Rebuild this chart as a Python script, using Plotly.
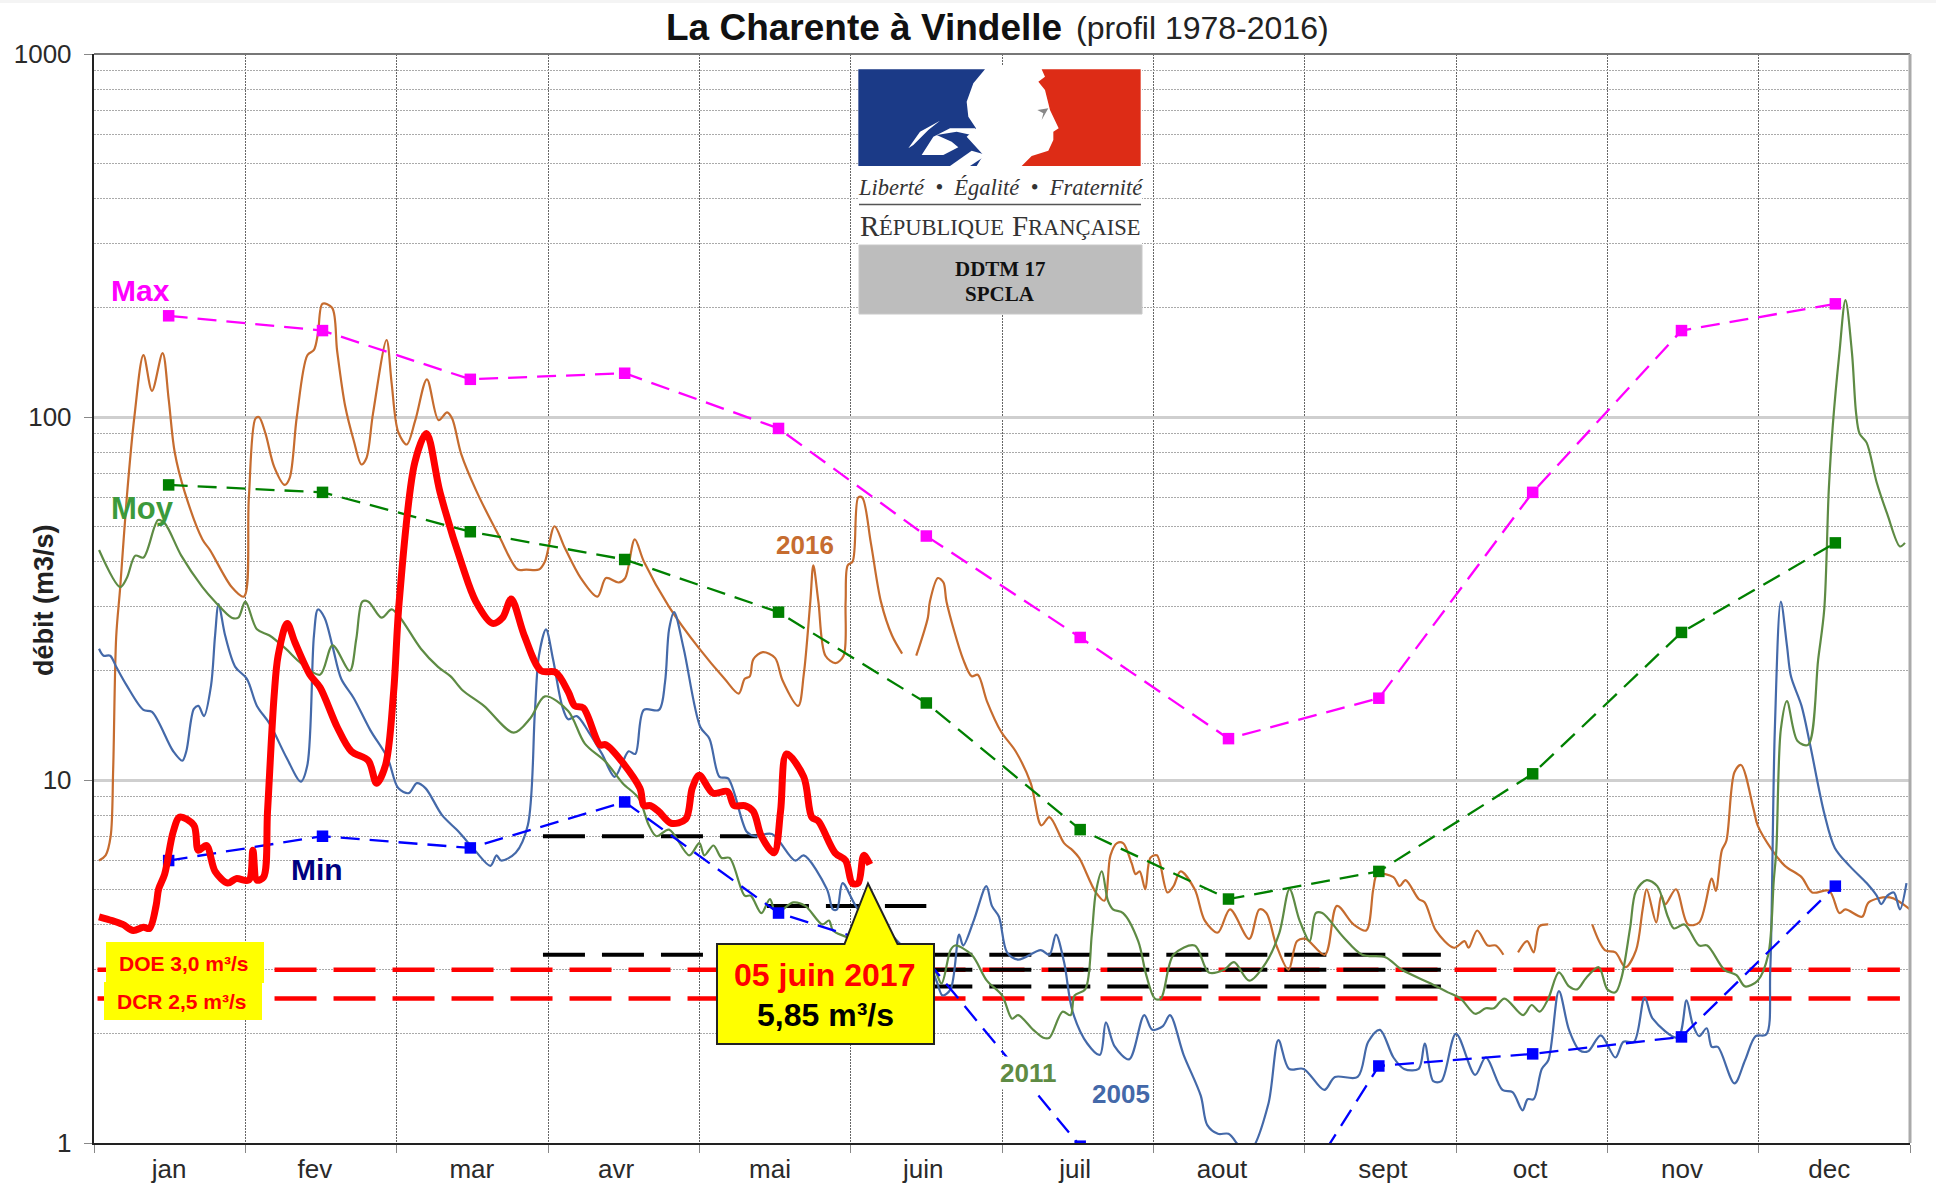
import plotly.graph_objects as go

W, H = 1936, 1191
L, R, T, B = 94, 1910, 54, 1143

month_bounds = [0, 30, 60, 90, 120, 150, 180, 210, 240, 270, 300, 330, 360]
month_labels = ["jan", "fev", "mar", "avr", "mai", "juin", "juil", "aout", "sept", "oct", "nov", "dec"]
month_label_days = [14.9, 43.8, 74.9, 103.5, 134, 164.4, 194.5, 223.6, 255.5, 284.7, 314.8, 344]
y_major = [1, 10, 100, 1000]
y_minor = [2, 3, 4, 5, 6, 7, 8, 9, 20, 30, 40, 50, 60, 70, 80, 90, 200, 300, 400, 500, 600, 700, 800, 900]

profile_days = [14.8, 45.3, 74.6, 105.2, 135.7, 165, 195.5, 224.9, 254.7, 285.2, 314.7, 345.2]
profile_max = [190, 173, 127, 132, 93, 47, 24.7, 13, 16.8, 62, 173, 205]
profile_moy = [65, 62, 48.3, 40.5, 29, 16.3, 7.3, 4.7, 5.6, 10.4, 25.5, 45]
profile_min = [6, 7, 6.5, 8.7, 4.3, 3.2, 0.98, 0.36, 1.63, 1.76, 1.96, 5.1]

d2016 = [1, 2.3, 3.3, 3.8, 4.4, 5.2, 6.5, 8, 9.8, 11.5, 13.6, 14.8, 16, 18, 21.5, 23, 27.3, 29.7, 30.7, 32, 32.7, 34, 35.7, 37.8, 38.8, 40.2, 42.3, 43.6, 44.4, 45.3, 47.2, 48.2, 49.8, 51.5, 53, 54, 55.3, 58, 59, 60.3, 62, 63.7, 66, 68.3, 70, 71, 72.8, 75.7, 80.3, 84, 85.7, 88.2, 89.4, 91.3, 93.2, 96.5, 99.8, 101.5, 104, 105.3, 107.2, 109, 114, 120, 125, 127.8, 129, 130, 130.7, 132.6, 135, 136.5, 139.6, 140.7, 142, 142.6, 143.6, 145, 147, 148.6, 149, 149.4, 150.4, 151.5, 152.3, 154, 156, 158.2, 160.2, 161, 163, 165.3, 165.7, 167.3, 168.4, 169, 172.3, 174, 175.2, 177, 179.8, 182.7, 185.7, 187.8, 189.4, 192.3, 194, 195.3, 198.6, 200.3, 201.5, 202.8, 204, 205.7, 206.5, 207.3, 208.4, 209.4, 210.7, 212.8, 214, 215.4, 218.2, 220.2, 222.8, 225.2, 229, 231, 232.4, 234.4, 236.8, 238.5, 240.2, 244, 246.4, 249.7, 252.2, 253.6, 254.4, 257.6, 258.8, 260, 262.6, 263.8, 266, 269.6, 271.7, 272.5, 274.2, 276.3, 277.9, 279.4, 281, 282.3, 284.1, 285.4, 286.5, 288.3, 292, 297, 299.5, 301.6, 303.6, 305.7, 307, 307.8, 309.7, 310.7, 311.5, 313.6, 316, 318.2, 320.7, 321.5, 322.7, 323.6, 325.2, 326.5, 329, 329.8, 332.7, 335.2, 338.5, 340.6, 344, 346, 347.2, 350.5, 351.8, 356, 360]
v2016 = [6, 6.2, 7, 10.7, 24.8, 34, 60, 100, 148, 118, 150, 112, 80, 62, 46, 43, 34, 32, 60, 99, 100, 90, 73, 65, 68, 100, 148, 153, 170, 205, 200, 152, 107, 86, 74, 77, 102, 163, 124, 91, 84, 98, 127, 98, 103, 99, 79, 63, 47, 38, 38, 38, 40, 50, 44, 36, 32, 36, 35, 36, 46, 40, 30, 23, 19, 17.3, 19, 19.3, 21.5, 22.5, 21.7, 18.8, 16, 19.5, 31, 39, 31, 22, 21, 22, 31, 39, 40, 60, 60, 45, 31, 25, 22.3, None, 22, 28, 31, 36, 35, 31, 21.5, 19.3, 19.5, 16.5, 13.6, 12, 9.8, 7.5, 7.9, 6.7, 6.4, 6.1, 4.9, 4.65, 6.2, 6.7, 6.7, 5.9, 5.5, 5.6, 5, 6.1, 6.2, 4.9, 5.1, 5.6, 5, 4.1, 3.8, 4.4, 3.65, 4.4, 4.3, 3.5, 3, 3.6, 3.65, 3.3, 4.5, 4, 3.85, 5, 5.5, 5.4, 5.1, 5.3, 4.7, 4.6, 3.85, 3.45, 3.6, 3.45, 3.85, 3.5, 3.5, 3.3, None, 3.35, 3.6, 3.35, 3.95, 4, None, 4, 3.4, 3.35, 3.05, 3.4, 4.4, 5, 4.05, 4.8, 4.55, 5, 4, 4.05, 5.35, 4.95, 6.4, 6.8, 10.5, 11, 8.3, 7.5, 6.4, 5.8, 5.4, 4.9, 4.95, 4.3, 4.4, 4.2, 4.6, 4.75, 4.4]

d2011 = [1, 5.2, 6.5, 8.2, 9.8, 12.7, 14, 17.3, 21.5, 24, 27.3, 28.6, 30, 32.3, 34.8, 38, 41, 44.8, 47.3, 50.7, 52, 53.2, 54.4, 57, 59, 60.7, 64.8, 68.2, 70.7, 73, 77.3, 83.2, 86.5, 89.4, 94, 97.3, 101.5, 104.8, 108, 110, 111.5, 114, 118, 120, 121, 122.8, 124.4, 126, 129, 130.2, 132.3, 134, 135.2, 138.6, 141, 144.4, 145.7, 146.5, 149, 160, 166.5, 168, 169.8, 170.7, 174, 177, 180, 182, 183.2, 186.2, 188.2, 189.4, 192, 193.6, 194.4, 196.5, 197.8, 198.6, 199.8, 201, 202, 204, 207, 208.6, 210.3, 211.5, 214, 218.2, 221, 224, 226, 229, 232.4, 235, 237, 239, 241, 242.2, 243.5, 247.6, 251.4, 256, 259.3, 265, 268.4, 270.9, 273.8, 275.9, 277.5, 279.6, 283.3, 285, 286.6, 288.3, 290.4, 292.4, 294, 295.8, 298.3, 300, 301.6, 302.8, 304.5, 305.7, 307.8, 309.9, 312, 313.2, 315.3, 318.2, 319.8, 323.2, 325.6, 327.3, 329.8, 331.9, 333, 333.5, 334.4, 335.6, 337.7, 339.8, 341.8, 343, 343.9, 344.7, 346, 347.2, 348.5, 349.3, 350, 351.4, 353.4, 355.5, 358, 359]
v2011 = [43, 34, 36, 41.5, 41, 52, 51, 41.5, 34, 31, 28, 28, 31, 26, 25, 23, 21, 19.5, 23.5, 20, 24.5, 31, 31, 28, 29.5, 28, 23, 20.5, 19.3, 17.7, 16, 13.5, 14.8, 17, 15.5, 12.6, 11.2, 9.8, 8.9, 7.5, 7, 7.3, 6.2, 6.7, 6.2, 6.6, 6.1, 6.1, 4.8, 4.8, 4.3, 4.7, 4.3, 4.6, 4.5, 4, 4.1, 3.85, 3.7, 3.2, 3, 2.75, 3.4, 3.5, 3.3, 2.8, 2.55, 2.2, 2.25, 2.05, 1.95, 1.95, 2.3, 2.25, 2.55, 2.65, 3.75, 4.9, 5.6, 4.65, 4.4, 4.3, 3.6, 2.9, 2.5, 2.5, 3.3, 3.5, 2.95, 3, 3.15, 2.8, 3.15, 3.8, 5, 4.1, 3.6, 4.3, 4.3, 3.7, 3.3, 3.25, 3, 2.75, 2.6, 2.5, 2.27, 2.35, 2.35, 2.5, 2.25, 2.4, 2.3, 2.5, 2.95, 2.7, 2.65, 2.85, 3.05, 2.65, 2.6, 2.85, 3.9, 4.95, 5.3, 5.1, 4.2, 3.9, 4, 3.5, 3.5, 3, 2.9, 2.7, 2.8, 3.3, 5.3, 6.4, 13.8, 16.5, 12.8, 12.5, 21.5, 29.5, 63, 95, 150, 210, 150, 103, 90, 85, 66, 54, 44, 45]

d2005 = [1, 1.9, 3.2, 4.4, 6.5, 9.8, 11.5, 15.7, 17.5, 18.3, 19.8, 20.7, 21.8, 23.2, 24, 24.7, 26, 28, 30.3, 32.3, 34.8, 38.2, 41, 42.3, 43.6, 44.4, 45.7, 47.3, 49, 51.5, 54.8, 58.2, 60.3, 62.4, 64, 65.7, 69, 72.3, 75.7, 78.6, 79.8, 80.7, 83.6, 86, 87.4, 88.2, 89.6, 91, 92.8, 94, 95.7, 98, 100.7, 103.2, 104.8, 106, 107.3, 109, 112, 113.2, 114, 115, 116.9, 120.2, 122, 124, 125.7, 129.4, 131, 134.4, 139, 140.7, 145.3, 146.5, 147.3, 148.4, 151.5, 156.9, 160.2, 165, 167, 168.2, 169.8, 171.5, 172.3, 174.4, 176.9, 178, 179.4, 181, 183.2, 187.7, 189.4, 190.7, 192.3, 194, 196.9, 199.4, 200.6, 202.3, 205.2, 208.2, 209.8, 211.9, 213.3, 216, 219.4, 220.7, 222.8, 224.9, 226.5, 227.3, 229.4, 232.8, 234.8, 236.9, 239.8, 243.9, 246, 250.5, 252.6, 254.9, 257.6, 259.7, 262.6, 263.8, 265.5, 267.1, 270, 273.8, 275.9, 279.2, 281.2, 283.2, 284.2, 285.4, 287, 288.3, 290.4, 292.4, 294.5, 296.2, 298.7, 301.6, 303.2, 305.3, 307.4, 309, 314, 315.7, 316.9, 318.2, 319.7, 320.7, 321.9, 325.2, 327.3, 329.4, 331.5, 332.3, 333.2, 334.4, 335.6, 336.4, 338.5, 340.2, 343, 345.1, 348, 351.4, 353.4, 354.3, 355.5, 356.8, 358, 359.3]
v2005 = [23, 22, 22, 20.5, 18.2, 15.6, 15.4, 12, 11.3, 12, 15.7, 16, 15, 18.2, 25, 30.5, 25, 20.5, 19, 16, 14.3, 11.5, 9.9, 11, 25, 29.5, 28, 23.3, 19, 16.8, 13.7, 11.5, 9.5, 9.2, 9.8, 9.5, 8, 7.2, 6.35, 5.8, 6.2, 6, 6.3, 7.5, 15.4, 22, 26, 21.5, 16, 14.7, 15, 13.6, 11.8, 10.2, 11.2, 12, 11.8, 15.6, 15.6, 18.6, 26, 29, 23, 14, 13, 10.2, 10.1, 7.2, 7, 7.1, 6, 6.2, 5, 4.4, 4.4, 5.2, 4.4, 3.9, 3.5, 3.2, 2.8, 2.55, 2.65, 3.75, 3.5, 4.1, 5.1, 4.5, 4.2, 3.35, 3.2, 3.4, 3.3, 3.75, 3.15, 2.3, 1.88, 1.75, 2.15, 1.85, 1.7, 2.25, 2.05, 2.1, 2.25, 1.75, 1.35, 1.12, 1.06, 1.06, 1, 0.96, 0.96, 1.28, 1.92, 1.6, 1.6, 1.4, 1.52, 1.52, 1.9, 2.05, 1.72, 1.6, 1.6, 1.88, 1.48, 1.48, 2, 1.54, 1.72, 1.4, 1.38, 1.23, 1.32, 1.32, 1.6, 1.69, 2.62, 2.05, 1.8, 1.79, 1.98, 1.72, 1.9, 1.9, 2.52, 2.2, 1.95, 2.47, 2.13, 1.97, 2.07, 1.84, 1.84, 1.46, 1.69, 1.97, 1.99, 3, 13.7, 31, 23.5, 19.3, 16, 12.5, 8.1, 6.5, 5.8, 5.2, 4.8, 4.55, 4.8, 4.9, 4.4, 5.2]

d2017 = [1, 3.6, 5.7, 7.8, 9.8, 11, 12.3, 12.8, 14, 15.7, 17, 19.8, 20.7, 22.3, 24, 26.5, 28.2, 30.7, 31.5, 32.3, 33.6, 34.4, 35.7, 36.5, 38.3, 39.8, 42.8, 44.8, 48.2, 51, 54.4, 56, 57.8, 59.4, 60.5, 63.6, 65.9, 68.6, 73, 75.7, 79, 81, 82.7, 85.3, 88.6, 91.5, 94, 95.3, 97, 100.3, 101.5, 108.2, 109, 110.3, 111.9, 114.4, 117.3, 118.6, 120, 122.7, 125.6, 126.9, 129, 130.7, 132.3, 134.8, 136.1, 137.3, 140.7, 142.3, 143.6, 146.9, 149, 150.3, 151.5, 152.6, 153.8]
v2017 = [4.2, 4.1, 4, 3.85, 3.93, 3.9, 4.5, 5, 5.5, 7.2, 7.9, 7.5, 6.4, 6.6, 5.6, 5.2, 5.35, 5.3, 6.4, 5.3, 5.4, 8.2, 17, 22, 27, 24, 19.5, 18, 14, 12, 11.3, 9.8, 11, 17.5, 31, 75, 90, 62, 39, 31, 27, 28, 31.5, 25, 20, 19.8, 17.5, 16, 15.8, 12.5, 12.5, 9.5, 8.5, 8.5, 8.2, 7.6, 7.8, 9.5, 10.3, 9.2, 9.3, 8.5, 8.5, 8.2, 7, 6.3, 8.2, 11.8, 10.2, 7.9, 7.7, 6.3, 6, 5.2, 5.2, 6.2, 5.85]

doe_days, doe_value = [0.7, 358], 3.0
dcr_days, dcr_value = [0.7, 358], 2.5
thr_a_days, thr_a_value = [89, 131.5], 7.0
thr_b_days, thr_b_value = [89, 121], 3.3
thr_c_days, thr_c_value = [133.4, 165], 4.5
thr_d_days, thr_d_values = [142.4, 267], [3.3, 3.0, 2.7]

ORANGE, GREEN, BLUE = "#C66C2F", "#5E8B44", "#4469A9"

fig = go.Figure()


def hline(days, value, color, width):
    fig.add_trace(go.Scatter(x=days, y=[value, value], mode="lines",
                             line=dict(color=color, width=width, dash="42px,17px"), hoverinfo="skip"))


hline(doe_days, doe_value, "#FF0000", 4.5)
hline(dcr_days, dcr_value, "#FF0000", 4.5)
hline(thr_a_days, thr_a_value, "#000000", 4)
hline(thr_b_days, thr_b_value, "#000000", 4)
hline(thr_c_days, thr_c_value, "#000000", 4)
for v in thr_d_values:
    hline(thr_d_days, v, "#000000", 4)

for d, v, c in [(d2016, v2016, ORANGE), (d2005, v2005, BLUE), (d2011, v2011, GREEN)]:
    fig.add_trace(go.Scatter(x=d, y=v, mode="lines", connectgaps=False,
                             line=dict(color=c, width=2.2, shape="spline", smoothing=0.9), hoverinfo="skip"))

for v, c in [(profile_max, "#FF00FF"), (profile_moy, "#008000"), (profile_min, "#0000FF")]:
    fig.add_trace(go.Scatter(x=profile_days, y=v, mode="lines+markers",
                             line=dict(color=c, width=2.3, dash="19px,10px"),
                             marker=dict(symbol="square", size=11.5, color=c), hoverinfo="skip"))

fig.add_trace(go.Scatter(x=d2017, y=v2017, mode="lines",
                         line=dict(color="#FF0000", width=7, shape="spline", smoothing=0.9), hoverinfo="skip"))


def fx(px):
    return (px - L) / (R - L)


def fy(py):
    return (B - py) / (B - T)


def path(points):
    return "M " + " L ".join(f"{fx(x):.5f},{fy(y):.5f}" for x, y in points) + " Z"


def z8(points):
    return [(850 + x / 3, 60 + y / 3) for x, y in points]


shapes = []


def poly(points, fill, line=None, lw=0):
    shapes.append(dict(type="path", path=path(points), xref="paper", yref="paper",
                       fillcolor=fill, line=dict(color=line or fill, width=lw), layer="above"))


def rect(x0, y0, x1, y1, fill, line=None, lw=0):
    shapes.append(dict(type="rect", x0=fx(x0), x1=fx(x1), y0=fy(y0), y1=fy(y1), xref="paper", yref="paper",
                       fillcolor=fill, line=dict(color=line or fill, width=lw), layer="above"))


def seg(x0, y0, x1, y1, color, lw):
    shapes.append(dict(type="line", x0=fx(x0), x1=fx(x1), y0=fy(y0), y1=fy(y1), xref="paper", yref="paper",
                       line=dict(color=color, width=lw), layer="above"))


# frame
rect(0, 0, W, 3, "#F4F4F4")
seg(L, T, R, T, "#777777", 2)
seg(R, T, R, B, "#AAAAAA", 3)

# logo
rect(859, 66, 1142, 246, "#FFFFFF")
poly(z8([(25, 28), (405, 28), (370, 70), (350, 125), (355, 170), (378, 205), (350, 230), (400, 285), (380, 318), (25, 318)]), "#1B3A87")
poly(z8([(175, 265), (210, 215), (270, 182), (235, 210), (190, 255)]), "#FFFFFF")
poly(z8([(215, 285), (250, 230), (300, 205), (375, 205), (378, 228), (320, 215), (260, 225), (305, 245), (325, 262), (280, 285)]), "#FFFFFF")
poly(z8([(300, 318), (365, 272), (410, 285), (360, 318)]), "#FFFFFF")
poly(z8([(575, 28), (872, 28), (872, 318), (515, 318), (545, 288), (595, 272), (610, 240), (610, 215), (626, 205), (600, 150), (585, 90), (565, 65), (585, 50)]), "#DD2C16")
poly(z8([(562, 150), (595, 145), (575, 180), (580, 160)]), "#888888")
seg(859, 204.5, 1141, 204.5, "#555555", 1.5)
rect(859, 245, 1142, 314, "#BDBDBD", "#C8C8C8", 1)

# legend boxes
rect(106, 942, 264, 983, "#FFFF00")
rect(104, 982, 262, 1020, "#FFFF00")

# callout
poly([(717, 944), (844.5, 944), (868, 883.5), (897.5, 944), (934, 944), (934, 1044), (717, 1044)], "#FFFF00", "#222222", 2)

fig.update_layout(shapes=shapes)

anns = []


def ann(px, py, text, size, color="#000000", family="Liberation Sans", bg=None):
    anns.append(dict(x=fx(px), y=fy(py), xref="paper", yref="paper", text=text, showarrow=False,
                     xanchor="center", yanchor="middle", bgcolor=bg,
                     font=dict(size=size, color=color, family=family)))


ann(864, 27, "<b>La Charente à Vindelle</b>", 37, "#111111")
ann(1202, 28, "(profil 1978-2016)", 32, "#222222")
ann(140.6, 290, "<b>Max</b>", 30, "#FF00FF")
ann(142, 509, "<b>Moy</b>", 31, "#3C9A3C")
ann(317, 869.5, "<b>Min</b>", 30, "#000080")
ann(805, 544.6, "<b>2016</b>", 26, "#C66C2F")
ann(1027.5, 1073, "<b>2011</b>", 26, "#5E8B44", bg="#FFFFFF")
ann(1121, 1094, "<b>2005</b>", 26, "#4469A9", bg="#FFFFFF")
ann(183.5, 964, "<b>DOE 3,0 m³/s</b>", 21, "#FF0000")
ann(182, 1001, "<b>DCR 2,5 m³/s</b>", 21, "#FF0000")
ann(824, 975, "<b>05 juin 2017</b>", 32, "#FF0000")
ann(825, 1014.6, "<b>5,85 m³/s</b>", 32, "#000000")
ann(1000, 187.5, "<i>Liberté  •  Égalité  •  Fraternité</i>", 22.5, "#333333", "Liberation Serif")
ann(869.6, 226, "R", 29, "#333333", "Liberation Serif")
ann(941.8, 228, "ÉPUBLIQUE", 22.5, "#333333", "Liberation Serif")
ann(1020.3, 226, "F", 29, "#333333", "Liberation Serif")
ann(1084.6, 228, "RANÇAISE", 22.5, "#333333", "Liberation Serif")
ann(1000, 268.6, "<b>DDTM 17</b>", 21, "#111111", "Liberation Serif")
ann(1000, 293.5, "<b>SPCLA</b>", 21, "#111111", "Liberation Serif")
anns.append(dict(x=fx(44), y=fy(600), xref="paper", yref="paper", text="<b>débit (m3/s)</b>", showarrow=False,
                 textangle=-90, xanchor="center", yanchor="middle",
                 font=dict(size=27, color="#222222", family="Liberation Sans")))

fig.update_layout(
    annotations=anns,
    width=W, height=H, autosize=False,
    margin=dict(l=L, r=W - R, t=T, b=H - B, pad=0),
    paper_bgcolor="#FFFFFF", plot_bgcolor="#FFFFFF",
    showlegend=False,
    font=dict(family="Liberation Sans", color="#333333", size=25),
    xaxis=dict(range=[0, 360], automargin=False, tickmode="array", tickvals=month_label_days, ticktext=month_labels,
               showgrid=False, zeroline=False, showline=True, linecolor="#222222", linewidth=2,
               ticks="outside", ticklen=2, tickcolor="rgba(0,0,0,0)", tickfont=dict(size=26, color="#2A2A2A"),
               tickangle=0,
               minor=dict(tickmode="array", tickvals=month_bounds, showgrid=True, gridcolor="#666666",
                          griddash="2px,1px", gridwidth=1, ticks="outside", ticklen=8, tickcolor="#888888")),
    yaxis=dict(type="log", range=[0, 3], automargin=False, tickmode="array", tickvals=y_major,
               ticktext=[str(v) + "\u00a0" for v in y_major],
               showgrid=True, gridcolor="#CFCFCF", gridwidth=3, zeroline=False,
               showline=True, linecolor="#222222", linewidth=2,
               ticks="outside", ticklen=8, tickcolor="#888888", tickfont=dict(size=26, color="#2A2A2A"),
               minor=dict(tickmode="array", tickvals=y_minor, showgrid=True, gridcolor="#AAAAAA",
                          griddash="2px,1px", gridwidth=1, ticks="")),
)

fig.write_html("out.html", config=dict(displayModeBar=False),
               post_script="document.body.style.margin='0';document.body.style.overflow='hidden';")
